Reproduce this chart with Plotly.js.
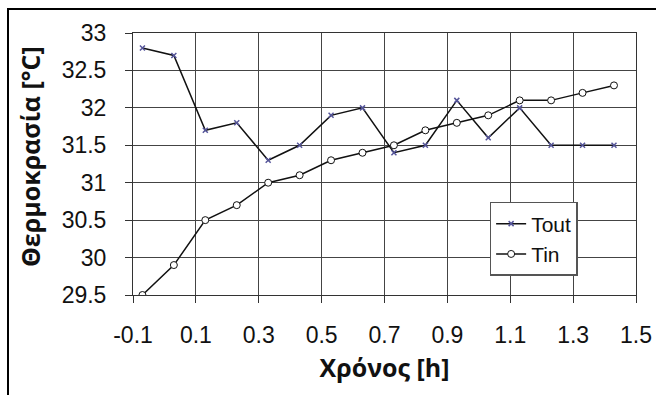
<!DOCTYPE html>
<html>
<head>
<meta charset="utf-8">
<script src="https://cdn.plot.ly/plotly-3.0.1.min.js"></script>
<style>
html,body{margin:0;padding:0;background:#fff;overflow:hidden;}
#frame{position:absolute;left:7px;top:8px;width:700px;height:450px;border-left:2px solid #000;border-top:2px solid #000;}
#chart{position:absolute;left:0;top:0;width:656px;height:395px;}
</style>
</head>
<body>
<div id="frame"></div>
<div id="chart"></div>
<script>
const timeH = [-0.07, 0.03, 0.13, 0.23, 0.33, 0.43, 0.53, 0.63, 0.73, 0.83, 0.93, 1.03, 1.13, 1.23, 1.33, 1.43];
const tout = [32.8, 32.7, 31.7, 31.8, 31.3, 31.5, 31.9, 32.0, 31.4, 31.5, 32.1, 31.6, 32.0, 31.5, 31.5, 31.5];
const tin  = [29.5, 29.9, 30.5, 30.7, 31.0, 31.1, 31.3, 31.4, 31.5, 31.7, 31.8, 31.9, 32.1, 32.1, 32.2, 32.3];
const xTicks = [-0.1, 0.1, 0.3, 0.5, 0.7, 0.9, 1.1, 1.3, 1.5];
const yTicks = [29.5, 30, 30.5, 31, 31.5, 32, 32.5, 33];
const xTitle = 'Χρόνος [h]';
const yTitle = 'Θερμοκρασία [°C]';

const traces = [
  {x: timeH, y: tout, name: 'Tout', mode: 'lines+markers', type: 'scatter',
   line: {color: '#111', width: 1.5},
   marker: {symbol: 'x-thin-open', size: 5, color: '#55559a', line: {color: '#55559a', width: 1.5}}},
  {x: timeH, y: tin, name: 'Tin', mode: 'lines+markers', type: 'scatter',
   line: {color: '#111', width: 1.5},
   marker: {symbol: 'circle', size: 7, color: '#fff', line: {color: '#111', width: 1}}}
];

const tickFont = {family: 'Liberation Sans, Arial, sans-serif', size: 23, color: '#111'};
const titleFont = {family: 'Open Sans, sans-serif', size: 25, color: '#111', weight: 'bold'};

const layout = {
  width: 656, height: 395,
  margin: {l: 133, r: 20, t: 33, b: 100},
  paper_bgcolor: 'rgba(0,0,0,0)', plot_bgcolor: '#fff',
  showlegend: true,
  legend: {x: 0.709, y: 0.355, xanchor: 'left', yanchor: 'top',
    bgcolor: '#fff', bordercolor: '#555', borderwidth: 1.5,
    font: {family: 'Liberation Sans, Arial, sans-serif', size: 21, color: '#111'},
    itemwidth: 30, tracegroupgap: 0},
  xaxis: {range: [-0.1, 1.5], tickvals: xTicks, ticktext: xTicks.map(String),
    showgrid: true, gridcolor: '#444', gridwidth: 1,
    showline: true, linecolor: '#333', linewidth: 1, mirror: true,
    ticks: 'outside', ticklen: 7, tickcolor: '#333', ticklabelstandoff: 12,
    tickfont: tickFont, zeroline: false,
    title: {text: xTitle, font: titleFont, standoff: 12}},
  yaxis: {range: [29.5, 33], tickvals: yTicks, ticktext: yTicks.map(String),
    showgrid: true, gridcolor: '#444', gridwidth: 1,
    showline: true, linecolor: '#333', linewidth: 1, mirror: true,
    ticks: 'outside', ticklen: 7, tickcolor: '#333', ticklabelstandoff: 14,
    tickfont: tickFont, zeroline: false},
  annotations: [{text: yTitle, xref: 'paper', yref: 'paper', x: -0.205, y: 0.53,
    xanchor: 'center', yanchor: 'middle', textangle: -90, showarrow: false, font: titleFont}]
};

Plotly.newPlot('chart', traces, layout, {displayModeBar: false, staticPlot: true});
</script>
</body>
</html>
